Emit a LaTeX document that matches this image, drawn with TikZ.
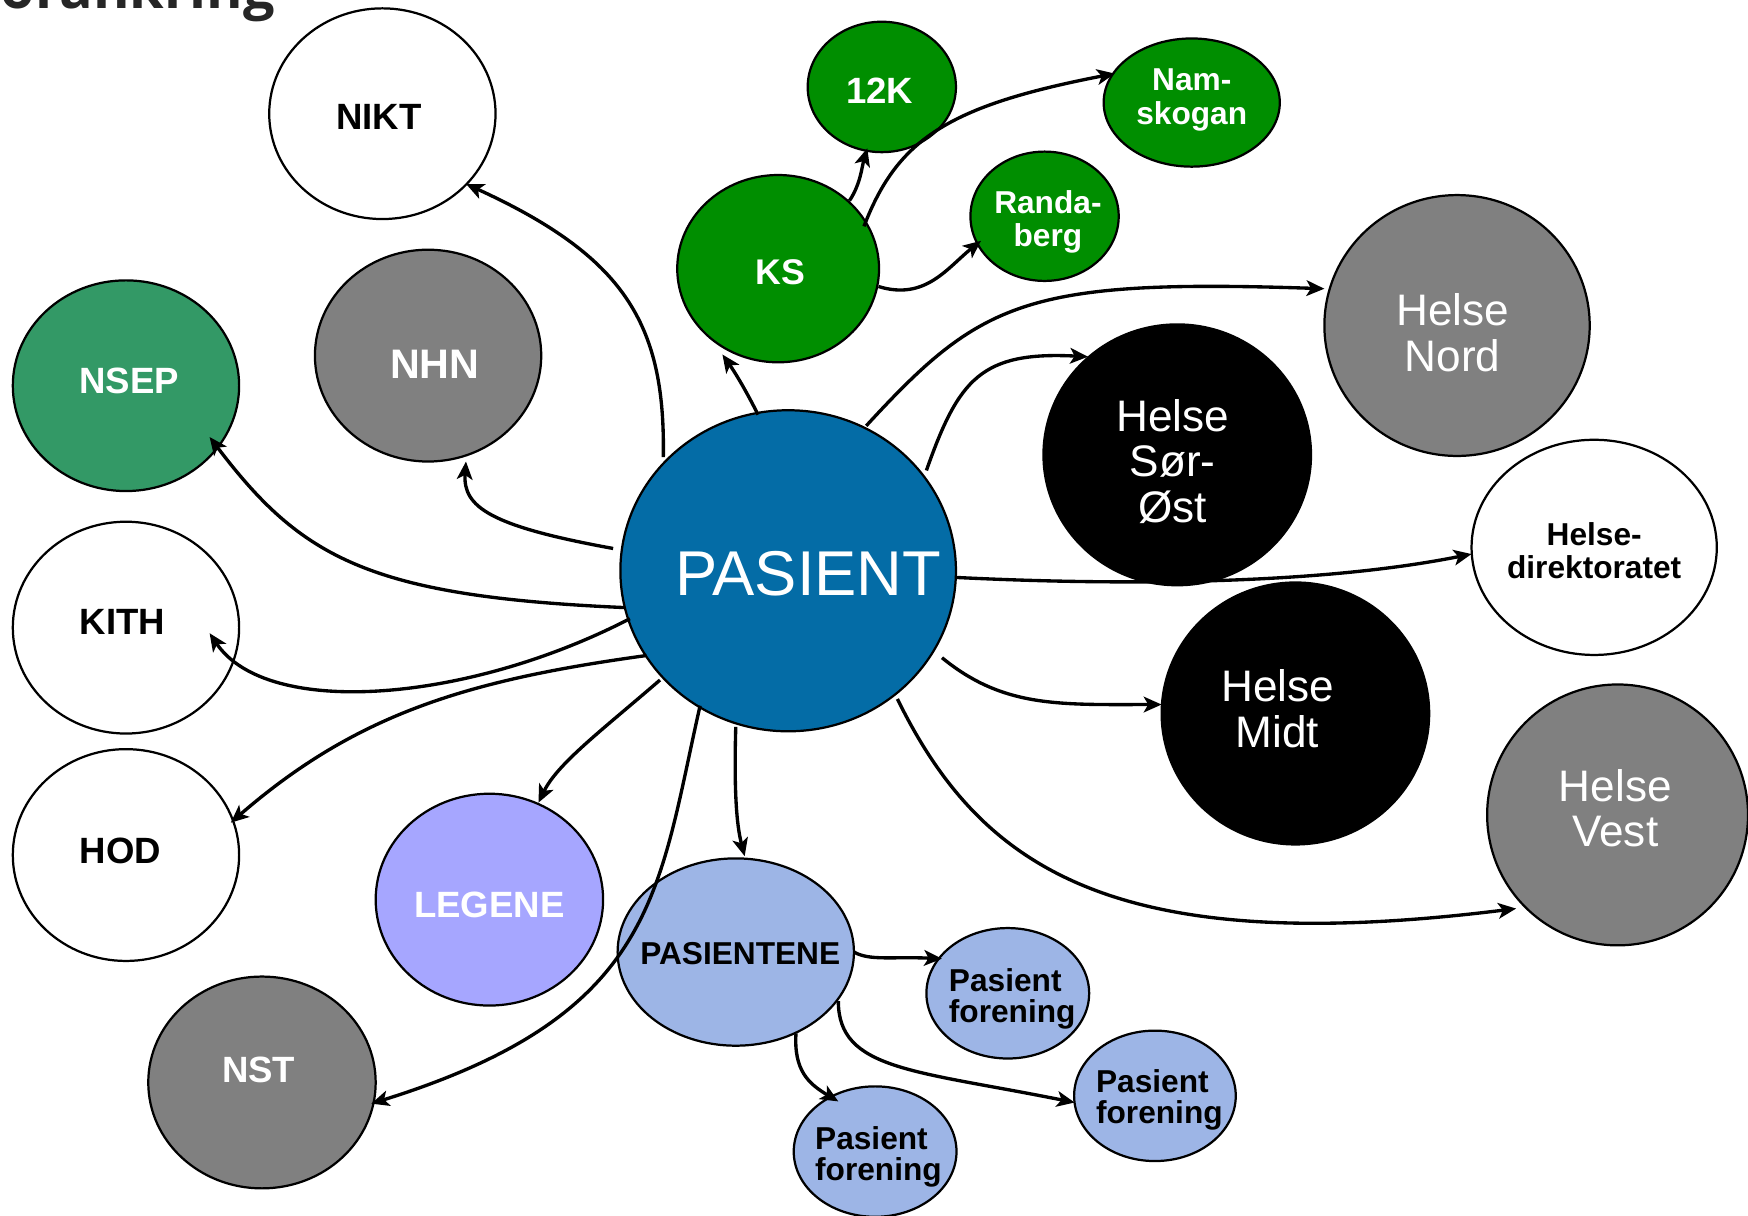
\documentclass[tikz,border=0pt]{standalone}
\usepackage{fontspec}
\setmainfont{Liberation Sans}
\newfontfamily\titlefont{Open Sans}
\usetikzlibrary{calc,shapes.geometric,arrows.meta}
\definecolor{pblue}{RGB}{4,108,166}
\definecolor{kgreen}{RGB}{0,142,0}
\definecolor{nsepgreen}{RGB}{51,153,102}
\definecolor{mgray}{RGB}{128,128,128}
\definecolor{lav}{RGB}{166,166,255}
\definecolor{lblue}{RGB}{157,181,230}
\definecolor{tgray}{RGB}{38,38,38}
\begin{document}
\begin{tikzpicture}[x=0.5pt,y=-0.5pt,
  bub/.style={ellipse, draw=black, line width=1pt, inner sep=0pt},
  bigb/.style={font=\bfseries\fontsize{16.4pt}{17pt}\selectfont, inner sep=0pt, align=center},
  smb/.style={font=\bfseries\fontsize{14.2pt}{14.2pt}\selectfont, inner sep=0pt, align=center},
  pfl/.style={font=\bfseries\fontsize{14.2pt}{14pt}\selectfont, inner sep=0pt, align=left},
  helse/.style={font=\fontsize{19.8pt}{20.5pt}\selectfont, text=white, inner sep=0pt, align=center},
  con/.style={line width=1.5pt, -{Stealth[length=8pt,width=7pt,inset=2pt]}},
]
\useasboundingbox (0,0) rectangle (1568,1090);
\clip (0,0) rectangle (1568,1090);

% title fragment
\node[font=\titlefont\bfseries\fontsize{25pt}{25pt}\selectfont, text=tgray, anchor=base east, inner sep=0pt] (title) at (247,8) {Forankring};

% bubbles
\node[bub, fill=white, minimum width=101.5pt, minimum height=94.5pt] (NIKT) at (343,102) {};
\node[bub, fill=mgray, minimum width=101.5pt, minimum height=95pt] (NHN) at (384,319) {};
\node[bub, fill=nsepgreen, minimum width=101.5pt, minimum height=94.5pt] (NSEP) at (113,346) {};
\node[bub, fill=white, minimum width=101.5pt, minimum height=95pt] (KITH) at (113,563) {};
\node[bub, fill=white, minimum width=101.5pt, minimum height=95pt] (HOD) at (113,767) {};
\node[bub, fill=mgray, minimum width=102pt, minimum height=95pt] (NST) at (235,971) {};
\node[bub, fill=lav, minimum width=102pt, minimum height=95pt] (LEG) at (439,807) {};
\node[bub, fill=lblue, minimum width=106pt, minimum height=84pt] (PTE) at (660,854) {};
\node[bub, fill=lblue, minimum width=73pt, minimum height=58.5pt] (PF1) at (904,891) {};
\node[bub, fill=lblue, minimum width=72.5pt, minimum height=58.5pt] (PF2) at (1036,983) {};
\node[bub, fill=lblue, minimum width=73pt, minimum height=58.5pt] (PF3) at (785,1033) {};
\node[bub, fill=pblue, minimum width=150.5pt, minimum height=144pt] (P) at (707,512) {};
\node[bub, fill=kgreen, minimum width=90.5pt, minimum height=84pt] (KS) at (698,241) {};
\node[bub, fill=kgreen, minimum width=66.5pt, minimum height=58.5pt] (K12) at (791,78) {};
\node[bub, fill=kgreen, minimum width=79pt, minimum height=57.5pt] (NAM) at (1069,92) {};
\node[bub, fill=kgreen, minimum width=66.5pt, minimum height=58pt] (RAN) at (937,194) {};
\node[bub, fill=mgray, minimum width=119pt, minimum height=117pt] (HN) at (1307,292) {};
\node[bub, fill=black, minimum width=120pt, minimum height=117pt] (HSO) at (1056,408) {};
\node[bub, fill=white, minimum width=110pt, minimum height=96.5pt] (HD) at (1430,491) {};
\node[bub, fill=black, minimum width=120pt, minimum height=117.5pt] (HM) at (1162,640) {};
\node[bub, fill=mgray, minimum width=117pt, minimum height=117pt] (HV) at (1451,731) {};

% labels
\node[bigb] (tNIKT) at ($(NIKT)+(-3,3)$) {NIKT};
\node[bigb, text=white, font=\bfseries\fontsize{18.5pt}{19pt}\selectfont] (tNHN) at ($(NHN)+(6,8)$) {NHN};
\node[bigb, text=white] (tNSEP) at ($(NSEP)+(3,-4)$) {NSEP};
\node[bigb] (tKITH) at ($(KITH)+(-3,-5)$) {KITH};
\node[bigb] (tHOD) at ($(HOD)+(-5,-4)$) {HOD};
\node[bigb, text=white] (tNST) at ($(NST)+(-3,-11)$) {NST};
\node[bigb, text=white] (tLEG) at ($(LEG)+(0,5)$) {LEGENE};
\node[bigb, text=white, font=\bfseries\fontsize{16pt}{17pt}\selectfont] (tKS) at ($(KS)+(2,3)$) {KS};
\node[bigb, text=white] (tK12) at ($(K12)+(-2,3)$) {12K};
\node[smb, text=white, font=\bfseries\fontsize{14.2pt}{15.5pt}\selectfont] (tNAM) at ($(NAM)+(0,-2.5)$) {Nam-\\skogan};
\node[smb, text=white, font=\bfseries\fontsize{14.2pt}{14.5pt}\selectfont] (tRAN) at ($(RAN)+(3,5)$) {Randa-\\berg};
\node[helse, font=\fontsize{19.8pt}{21pt}\selectfont] (tHN) at ($(HN)+(-4,6.5)$) {Helse\\Nord};
\node[helse] (tHSO) at ($(HSO)+(-4,6)$) {Helse\\Sør-\\Øst};
\node[smb, font=\bfseries\fontsize{14.2pt}{15pt}\selectfont] (tHD) at ($(HD)+(0,3)$) {Helse-\\direktoratet};
\node[helse] (tHM) at ($(HM)+(-16,-4)$) {Helse\\Midt};
\node[helse] (tHV) at ($(HV)+(-2,-6)$) {Helse\\Vest};
\node[font=\fontsize{28.4pt}{30pt}\selectfont, text=white, inner sep=0pt] (tP) at ($(P)+(18,2.5)$) {PASIENT};
\node[smb] (tPTE) at ($(PTE)+(4,1)$) {PASIENTENE};
\node[pfl] (tPF1) at ($(PF1)+(4,5)$) {Pasient\\forening};
\node[pfl] (tPF2) at ($(PF2)+(4,3.5)$) {Pasient\\forening};
\node[pfl] (tPF3) at ($(PF3)+(3,5)$) {Pasient\\forening};

% connectors
\draw[con] ($(P)+(-112,-102)$) .. controls (597,290) and (560,230) .. ($(NIKT)+(75,63)$);
\draw[con] ($(P)+(-157,-20)$) .. controls (440,472) and (415,455) .. ($(NHN)+(34,95)$);
\draw[con] ($(P)+(-147,33)$) .. controls (330,535) and (270,500) .. ($(NSEP)+(75,46)$);
\draw[con] ($(P)+(-142,43)$) .. controls (420,630) and (240,645) .. ($(KITH)+(75,5)$);
\draw[con] ($(P)+(-127,76)$) .. controls (420,610) and (320,640) .. ($(HOD)+(94,-29)$);
\draw[con] ($(P)+(-115,98)$) .. controls (540,655) and (500,685) .. ($(LEG)+(44,-87)$);
\draw[con] ($(P)+(-79,121)$) .. controls (590,800) and (590,910) .. ($(NST)+(98,19)$);
\draw[con] ($(P)+(-47,140)$) .. controls (658,720) and (662,745) .. ($(PTE)+(8,-86)$);
\draw[con] ($(P)+(-27,-140)$) .. controls (670,352) and (660,335) .. ($(KS)+(-50,77)$);
\draw[con] ($(KS)+(64,-61)$) .. controls (772,165) and (773,150) .. ($(K12)+(-13,55)$);
\draw[con] ($(KS)+(77,-38)$) .. controls (805,125) and (850,95) .. ($(NAM)+(-69,-26)$);
\draw[con] ($(KS)+(90,16)$) .. controls (830,270) and (850,240) .. ($(RAN)+(-57,22)$);
\draw[con] ($(P)+(70,-130)$) .. controls (880,270) and (920,250) .. ($(HN)+(-119,-33)$);
\draw[con] ($(P)+(124,-90)$) .. controls (860,340) and (880,315) .. ($(HSO)+(-80,-88)$);
\draw[con] ($(P)+(151,6)$) .. controls (1000,525) and (1180,525) .. ($(HD)+(-110,6)$);
\draw[con] ($(P)+(138,78)$) .. controls (900,635) and (950,632) .. ($(HM)+(-120,-8)$);
\draw[con] ($(P)+(98,115)$) .. controls (880,780) and (1000,860) .. ($(HV)+(-91,84)$);
\draw[con] ($(PTE)+(106,0)$) .. controls (780,862) and (800,858) .. ($(PF1)+(-59,-31)$);
\draw[con] ($(PTE)+(92,44)$) .. controls (752,960) and (820,960) .. ($(PF2)+(-72,6)$);
\draw[con] ($(PTE)+(54,73)$) .. controls (712,960) and (725,972) .. ($(PF3)+(-33,-45)$);
\end{tikzpicture}
\end{document}
